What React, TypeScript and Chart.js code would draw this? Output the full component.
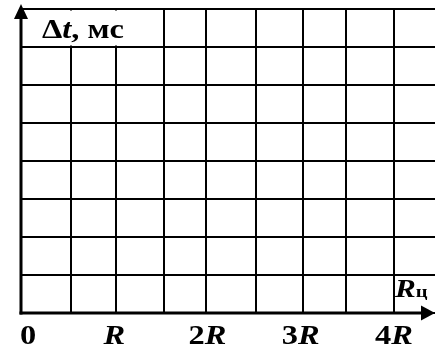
import React, { useEffect, useRef } from "react";
import { Chart, registerables } from "chart.js";

Chart.register(...registerables);

// Grid line positions along the Rц axis (in units of R)
const xGridValues = [0, 0.536, 1.019, 1.534, 1.984, 2.52, 3.024, 3.485, 4.0];
const xMax = 4.44;
// Horizontal grid lines (cells of Δt)
const yGridValues = [0, 1, 2, 3, 4, 5, 6, 7, 8];
const yMax = 8;
// Tick labels under the Rц axis
const xLabelValues = [0, 1, 2, 3, 4];
const xLabelTexts = ["0", "R", "2R", "3R", "4R"];
const yAxisTitle = ["Δ", "t", ", мс"];
const xAxisTitle = ["R", "ц"];

const SERIF = '"Liberation Serif", "Times New Roman", serif';
const STRETCH = 1.2;

type Part = { text: string; font: string };

function drawParts(ctx: CanvasRenderingContext2D, parts: Part[], x: number, y: number, align: "left" | "center") {
  let total = 0;
  for (const p of parts) {
    ctx.font = p.font;
    total += ctx.measureText(p.text).width;
  }
  const w = total * STRETCH;
  const left = align === "center" ? x - w / 2 : x;
  ctx.save();
  ctx.translate(left, y);
  ctx.scale(STRETCH, 1);
  ctx.textAlign = "left";
  ctx.textBaseline = "alphabetic";
  let cx = 0;
  for (const p of parts) {
    ctx.font = p.font;
    ctx.fillText(p.text, cx, 0);
    cx += ctx.measureText(p.text).width;
  }
  ctx.restore();
}

function labelParts(s: string, size: number): Part[] {
  return s.split("").map((ch) => ({
    text: ch,
    font: (/[A-Za-z]/.test(ch) ? "italic bold " : "bold ") + size + "px " + SERIF,
  }));
}

const overlayPlugin = {
  id: "overlay",
  afterDraw(chart: any) {
    const ctx: CanvasRenderingContext2D = chart.ctx;
    const xs = chart.scales.x;
    const ys = chart.scales.y;
    const x0 = xs.getPixelForValue(0);
    const y0 = ys.getPixelForValue(0);
    const right = chart.chartArea.right;
    const yTop = ys.getPixelForValue(yMax);
    ctx.save();

    // white box for the Δt label in the top row
    const boxR = xs.getPixelForValue(xGridValues[3]);
    const boxTop = ys.getPixelForValue(yGridValues[8]);
    const boxBot = ys.getPixelForValue(yGridValues[7]);
    ctx.fillStyle = "#fff";
    ctx.fillRect(x0 + 2, boxTop + 1.5, boxR - x0 - 3.5, boxBot - boxTop - 3);

    ctx.fillStyle = "#000";
    ctx.strokeStyle = "#000";
    // y axis
    ctx.lineWidth = 3;
    ctx.beginPath();
    ctx.moveTo(x0, y0 + 1.5);
    ctx.lineTo(x0, yTop + 6);
    ctx.stroke();
    ctx.beginPath();
    ctx.moveTo(x0, yTop - 5);
    ctx.lineTo(x0 - 7, yTop + 10);
    ctx.lineTo(x0 + 7, yTop + 10);
    ctx.closePath();
    ctx.fill();
    // x axis
    ctx.beginPath();
    ctx.moveTo(x0 - 1.5, y0);
    ctx.lineTo(right - 8, y0);
    ctx.stroke();
    ctx.beginPath();
    ctx.moveTo(right, y0);
    ctx.lineTo(right - 14, y0 - 7.5);
    ctx.lineTo(right - 14, y0 + 7.5);
    ctx.closePath();
    ctx.fill();

    // tick labels
    xLabelValues.forEach((v, i) => {
      const px = xs.getPixelForValue(v);
      if (i === 0) {
        drawParts(ctx, labelParts(xLabelTexts[i], 27), px - 1, y0 + 31, "left");
      } else {
        drawParts(ctx, labelParts(xLabelTexts[i], 27), px, y0 + 31, "center");
      }
    });

    // y axis title
    drawParts(
      ctx,
      [
        { text: yAxisTitle[0], font: "bold 27px " + SERIF },
        { text: yAxisTitle[1], font: "italic bold 27px " + SERIF },
        { text: yAxisTitle[2], font: "bold 27px " + SERIF },
      ],
      x0 + 21,
      boxBot - 9,
      "left"
    );

    // x axis title
    drawParts(
      ctx,
      [
        { text: xAxisTitle[0], font: "italic bold 26px " + SERIF },
        { text: xAxisTitle[1], font: "bold 17px " + SERIF },
      ],
      xs.getPixelForValue(xGridValues[8]) + 1,
      y0 - 16,
      "left"
    );
    ctx.restore();
  },
};

export default function App() {
  const ref = useRef<HTMLCanvasElement | null>(null);
  useEffect(() => {
    if (!ref.current) return;
    const chart = new Chart(ref.current, {
      type: "scatter",
      data: { datasets: [{ data: [] }] },
      options: {
        animation: false,
        responsive: true,
        maintainAspectRatio: false,
        layout: { padding: { left: 21, top: 9, right: 0, bottom: 34 } },
        plugins: { legend: { display: false }, tooltip: { enabled: false } },
        scales: {
          x: {
            type: "linear",
            min: 0,
            max: xMax,
            afterBuildTicks: (s: any) => {
              s.ticks = xGridValues.map((v) => ({ value: v }));
            },
            afterFit: (s: any) => {
              s.height = 0;
            },
            ticks: { display: false },
            border: { display: false },
            grid: { color: "#000", lineWidth: 2, drawTicks: false },
          },
          y: {
            type: "linear",
            min: 0,
            max: yMax,
            afterBuildTicks: (s: any) => {
              s.ticks = yGridValues.map((v) => ({ value: v }));
            },
            afterFit: (s: any) => {
              s.width = 0;
            },
            ticks: { display: false },
            border: { display: false },
            grid: { color: "#000", lineWidth: 2, drawTicks: false },
          },
        },
      },
      plugins: [overlayPlugin],
    });
    return () => chart.destroy();
  }, []);
  return (
    <div style={{ position: "fixed", left: 0, top: 0, width: 435, height: 347, background: "#fff" }}>
      <canvas ref={ref} />
    </div>
  );
}
